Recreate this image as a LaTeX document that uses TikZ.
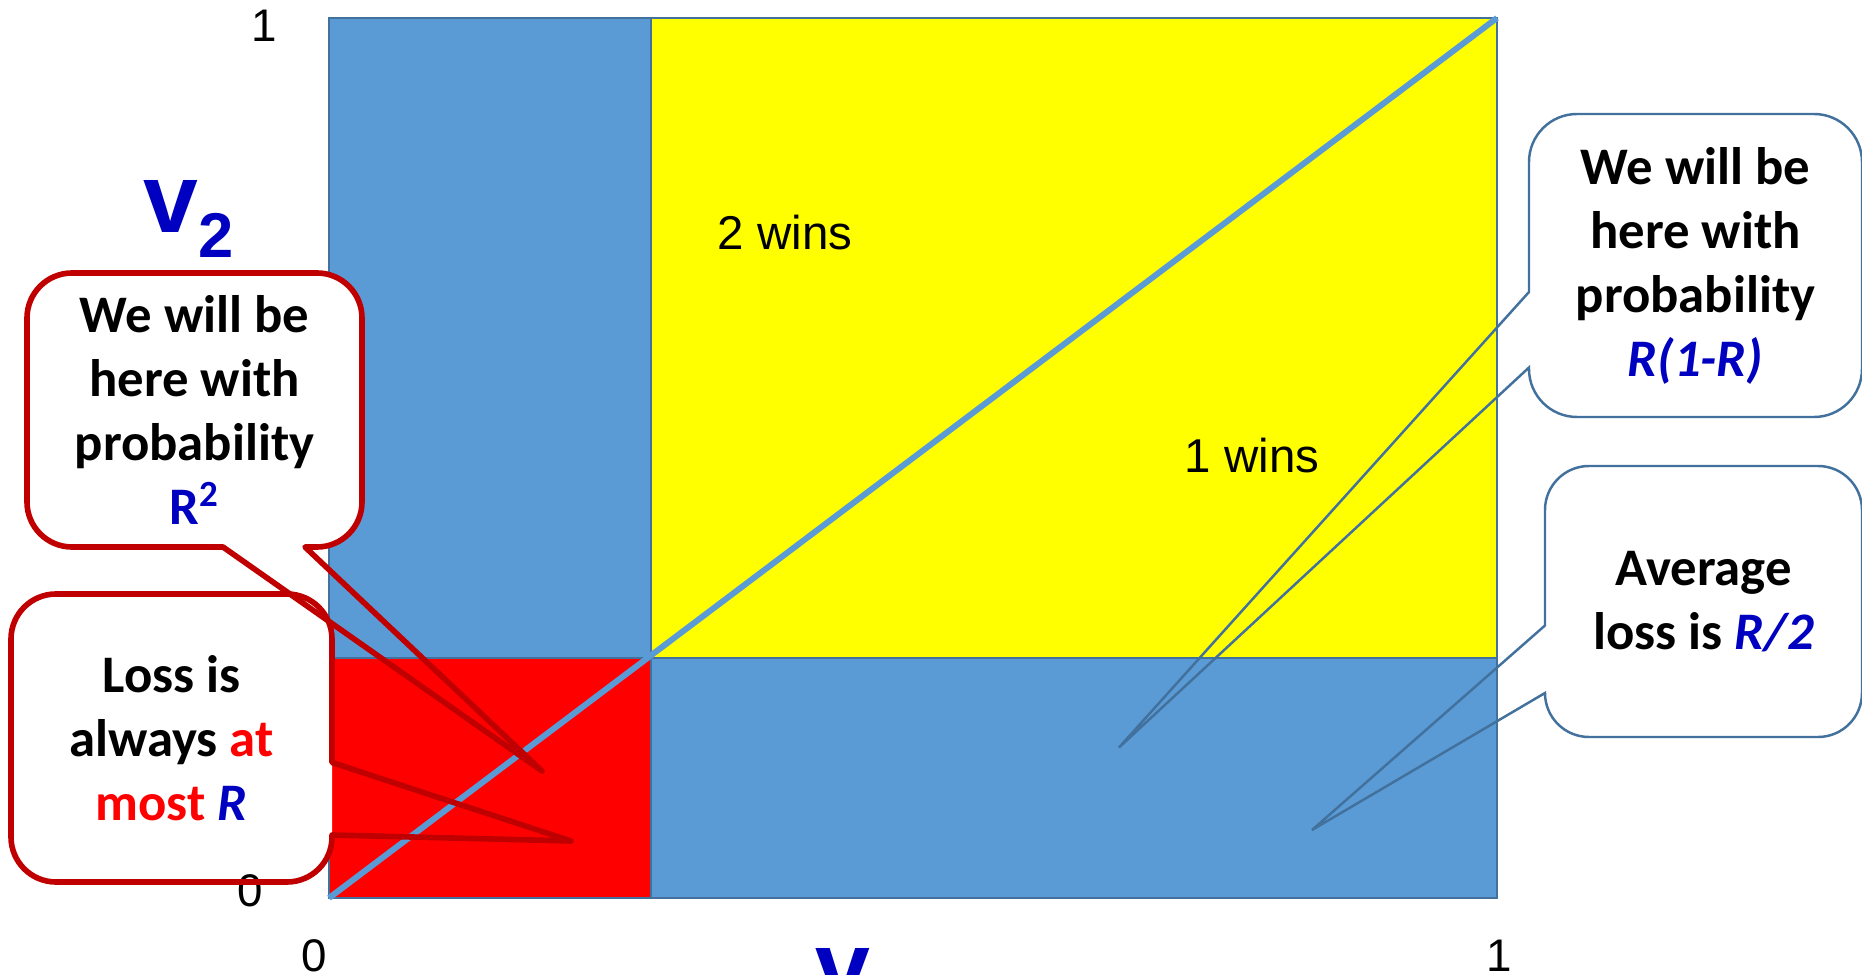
\documentclass[tikz,border=0pt]{standalone}
\usepackage{fontspec}
\usepackage{tikz}
\usepackage{xcolor}

\newfontfamily\calib{Carlito}
\newfontfamily\arialf{Liberation Sans}

\definecolor{boxblue}{HTML}{5B9BD5}
\definecolor{edgeblue}{HTML}{41719C}
\definecolor{winyellow}{HTML}{FFFF00}
\definecolor{lossred}{HTML}{FF0000}
\definecolor{calloutred}{HTML}{C00000}
\definecolor{varblue}{HTML}{0000C0}

\begin{document}
\begin{tikzpicture}[
    x=0.01cm, y=0.01cm,
    region/.style={
        draw=edgeblue,
        line width=0.7pt
    },
    axislabel/.style={
        font=\arialf\fontsize{13}{15}\selectfont,
        inner sep=0pt,
        anchor=base
    },
    winlabel/.style={
        font=\arialf\fontsize{13.5}{16}\selectfont,
        inner sep=0pt,
        anchor=base west
    },
    varlabel/.style={
        font=\arialf\bfseries\fontsize{28}{30}\selectfont,
        text=varblue,
        inner sep=0pt,
        anchor=base west
    },
    callbody/.style={
        fill=white,
        align=center,
        inner sep=0pt,
        font=\calib\bfseries\fontsize{15}{18.2}\selectfont
    },
    redline/.style={
        draw=calloutred,
        line width=1.6pt,
        line join=round
    },
    blueline/.style={
        draw=edgeblue,
        line width=0.7pt
    }
]

\useasboundingbox (0,0) rectangle (1862,975);
\clip (0,0) rectangle (1862,975);

% the unit square, split at R
\filldraw[region, fill=boxblue] (329,317) rectangle (651,957);
\filldraw[region, fill=winyellow] (651,317) rectangle (1497,957);
\filldraw[region, fill=lossred] (329,77) rectangle (651,317);
\filldraw[region, fill=boxblue] (651,77) rectangle (1497,317);

\coordinate (origin) at (329,77);
\coordinate (corner) at (1497,957);
\draw[boxblue, line width=1.7pt] (origin) -- (corner);

\node[winlabel] (twowins) at (717,725) {2 wins};
\node[winlabel] (onewins) at (1184,502) {1 wins};

\node[axislabel] (ytop) at (264.5,933) {1};
\node[axislabel] (xzero) at (314.5,3) {0};
\node[axislabel] (xone) at (1499,3) {1};

\node[varlabel] (vtwo) at (143,742)
{v\raisebox{-0.24cm}{\fontsize{18}{18}\selectfont 2}};
\node[varlabel] (vone) at (815,-26)
{v\raisebox{-0.24cm}{\fontsize{18}{18}\selectfont 1}};

% callout tips
\coordinate (tipsq) at (542,204);
\coordinate (tiploss) at (571,134);
\coordinate (tipmix) at (1119,227.5);
\coordinate (tipavg) at (1312,145);

% loss callout
\node[callbody, rounded corners=0.45cm, minimum width=3.21cm, minimum height=2.88cm] (loss) at (171.5,237)
{Loss is\\always \textcolor{lossred}{at}\\\textcolor{lossred}{most} \textcolor{varblue}{\textit{R}}};

\node[axislabel] (yzero) at (250,68) {0};

\draw[redline] (tiploss) -- (332,212.5) -- (332,336)
    arc[start angle=0, end angle=90, radius=45] -- (56,381)
    arc[start angle=90, end angle=180, radius=45] -- (11,138)
    arc[start angle=180, end angle=270, radius=45] -- (287,93)
    arc[start angle=270, end angle=360, radius=45] -- (332,140) -- cycle;

% R^2 callout
\node[callbody, rounded corners=0.45cm, minimum width=3.35cm, minimum height=2.74cm] (probsq) at (194.5,565)
{We will be\\here with\\probability\\\textcolor{varblue}{R\textsuperscript{2}}};

\draw[redline] (tipsq) -- (305,428) -- (317,428)
    arc[start angle=-90, end angle=0, radius=45] -- (362,657)
    arc[start angle=0, end angle=90, radius=45] -- (72,702)
    arc[start angle=90, end angle=180, radius=45] -- (27,473)
    arc[start angle=180, end angle=270, radius=45] -- (223,428) -- cycle;

% R(1-R) callout
\node[callbody, rounded corners=0.48cm, minimum width=3.33cm, minimum height=3.03cm] (probmix) at (1695.5,709.5)
{We will be\\here with\\probability\\\textcolor{varblue}{\textit{R(1-R)}}};

\draw[blueline] (tipmix) -- (1529,607.5) -- (1529,606)
    arc[start angle=180, end angle=270, radius=48] -- (1814,558)
    arc[start angle=270, end angle=360, radius=48] -- (1862,813)
    arc[start angle=0, end angle=90, radius=48] -- (1577,861)
    arc[start angle=90, end angle=180, radius=48] -- (1529,683) -- cycle;

% average loss callout
\node[callbody, rounded corners=0.44cm, minimum width=3.17cm, minimum height=2.71cm] (avgloss) at (1703.5,373.5)
{Average\\loss is \textcolor{varblue}{\textit{R/2}}};

\draw[blueline] (tipavg) -- (1545,282)
    arc[start angle=180, end angle=270, radius=44] -- (1818,238)
    arc[start angle=270, end angle=360, radius=44] -- (1862,465)
    arc[start angle=0, end angle=90, radius=44] -- (1589,509)
    arc[start angle=90, end angle=180, radius=44] -- (1545,349.5) -- cycle;

\end{tikzpicture}
\end{document}
